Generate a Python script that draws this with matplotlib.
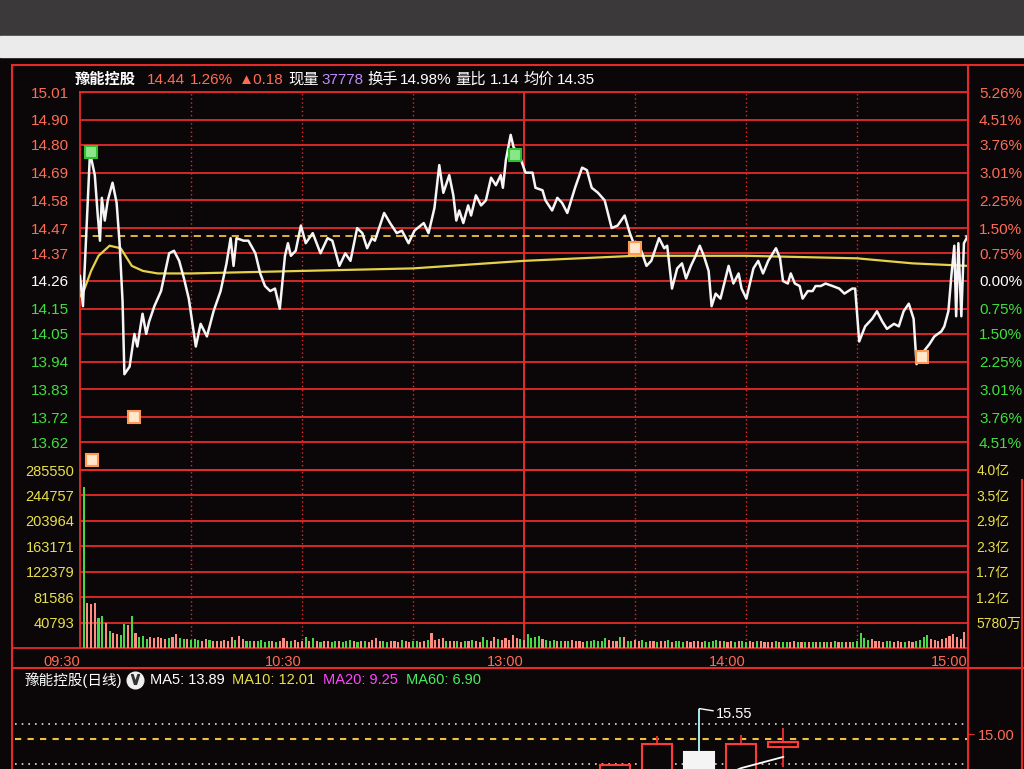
import matplotlib; matplotlib.use('agg')
import matplotlib.pyplot as plt
from matplotlib.lines import Line2D
from matplotlib.patches import Rectangle
import numpy as np

plt.rcParams['font.family'] = ['Liberation Sans', 'Noto Sans CJK SC', 'DejaVu Sans']

# ---- 分时 (minutes after 09:30, 240 = 15:00) ----
price_t = [0, 0.8, 2.7, 4.0, 4.8, 5.4, 5.9, 6.7, 7.5, 8.8, 9.9, 10.7, 11.5, 12.0, 13.4,
           14.7, 15.5, 16.9, 17.9, 18.7, 20.1, 21.9, 24.1, 25.4, 26.8, 28.1, 29.4, 31.3,
           32.6, 34.3, 36.1, 38.0, 39.6, 40.7, 41.5, 42.3, 44.2, 45.5, 47.4, 48.7, 50.0,
           51.4, 52.7, 54.0, 55.4, 56.2, 57.0, 58.3, 59.7, 61.0, 62.9, 65.0, 66.9, 68.2,
           70.1, 71.7, 73.1, 74.9, 76.3, 77.6, 78.9, 79.7, 82.2, 83.8, 85.6, 87.0, 88.8,
           90.4, 92.9, 94.2, 95.8, 97.1, 98.2, 99.8, 100.9, 101.7, 102.5, 103.6, 104.9,
           105.7, 107.0, 108.4, 109.7, 111.1, 112.4, 113.7, 114.3, 115.1, 116.4, 117.2,
           118.5, 120.4, 122.3, 123.1, 125.0, 125.8, 127.6, 129.0, 130.3, 131.7, 133.8,
           135.7, 137.0, 138.3, 140.0, 141.8, 143.7, 145.3, 147.2, 148.6, 149.9, 151.7,
           153.1, 154.4, 156.5, 157.9, 158.7, 160.0, 161.4, 162.7, 163.8, 165.1, 166.4,
           167.5, 168.6, 169.9, 170.7, 171.8, 173.1, 175.3, 176.6, 178.0, 178.8, 180.1,
           182.0, 183.3, 184.6, 186.0, 188.1, 189.2, 190.0, 191.3, 192.1, 193.2, 194.5,
           195.3, 196.7, 198.0, 198.8, 200.2, 201.5, 203.4, 205.2, 206.6, 208.7, 209.5,
           210.6, 212.2, 214.1, 215.4, 216.8, 218.1, 220.0, 221.3, 222.6, 224.0, 225.3,
           226.1, 228.0, 229.6, 230.9, 232.8, 233.6, 234.7, 235.5, 236.3, 236.8, 237.4,
           238.2, 238.9, 240]
price_v = [14.28, 14.16, 14.77, 14.68, 14.52, 14.42, 14.59, 14.50, 14.58, 14.65, 14.57, 14.41,
           14.18, 13.89, 13.92, 14.05, 14.00, 14.13, 14.05, 14.10, 14.16, 14.22, 14.37, 14.38,
           14.34, 14.27, 14.19, 14.00, 14.09, 14.04, 14.14, 14.22, 14.33, 14.43, 14.32, 14.43,
           14.42, 14.42, 14.37, 14.29, 14.24, 14.22, 14.23, 14.15, 14.36, 14.41, 14.36, 14.38,
           14.48, 14.41, 14.45, 14.37, 14.43, 14.42, 14.32, 14.37, 14.34, 14.47, 14.45, 14.39,
           14.43, 14.42, 14.53, 14.49, 14.45, 14.46, 14.41, 14.46, 14.49, 14.45, 14.55, 14.72,
           14.61, 14.68, 14.60, 14.50, 14.54, 14.49, 14.56, 14.52, 14.60, 14.56, 14.58, 14.67,
           14.64, 14.68, 14.63, 14.74, 14.84, 14.79, 14.77, 14.69, 14.69, 14.63, 14.62, 14.58,
           14.54, 14.59, 14.57, 14.53, 14.63, 14.71, 14.70, 14.63, 14.61, 14.58, 14.47, 14.48,
           14.52, 14.45, 14.40, 14.38, 14.32, 14.34, 14.43, 14.39, 14.40, 14.23, 14.31, 14.33,
           14.27, 14.32, 14.36, 14.40, 14.36, 14.30, 14.16, 14.21, 14.19, 14.32, 14.25, 14.29,
           14.23, 14.19, 14.31, 14.34, 14.29, 14.34, 14.39, 14.35, 14.26, 14.25, 14.29, 14.25,
           14.24, 14.19, 14.22, 14.22, 14.24, 14.24, 14.25, 14.24, 14.23, 14.21, 14.23, 14.23,
           14.02, 14.08, 14.11, 14.14, 14.10, 14.07, 14.09, 14.08, 14.14, 14.17, 14.11, 13.93,
           13.98, 14.01, 14.04, 14.06, 14.08, 14.14, 14.28, 14.40, 14.12, 14.41, 14.12, 14.41,
           14.44]
avg_t = [0, 1, 3, 5, 8, 11, 14, 17, 21, 30, 60, 90, 120, 150, 180, 210, 225, 240]
avg_v = [14.20, 14.22, 14.30, 14.36, 14.40, 14.39, 14.32, 14.30, 14.29, 14.29, 14.30, 14.31,
         14.34, 14.36, 14.36, 14.35, 14.33, 14.32]
last_price = 14.44
pre_close = 14.26

price_ticks = [15.01, 14.90, 14.80, 14.69, 14.58, 14.47, 14.37, 14.26, 14.15, 14.05, 13.94,
               13.83, 13.72, 13.62]
price_labels = ['15.01', '14.90', '14.80', '14.69', '14.58', '14.47', '14.37', '14.26', '14.15',
                '14.05', '13.94', '13.83', '13.72', '13.62']
pct_labels = ['5.26%', '4.51%', '3.76%', '3.01%', '2.25%', '1.50%', '0.75%', '0.00%', '0.75%',
              '1.50%', '2.25%', '3.01%', '3.76%', '4.51%']

# 成交量 (千手/min), r=up g=down w=flat
vol_k = [259, 72, 70, 72, 48, 51, 40, 27, 24, 22,
         21, 38, 37, 51, 24, 17, 20, 15, 18, 16,
         17, 16, 14, 16, 18, 23, 16, 14, 15, 13,
         14, 13, 12, 15, 13, 12, 12, 11, 13, 12,
         17, 13, 19, 15, 12, 11, 12, 11, 13, 10,
         11, 12, 10, 11, 16, 12, 11, 13, 10, 12,
         18, 11, 16, 12, 10, 11, 11, 10, 12, 11,
         10, 11, 13, 11, 10, 12, 11, 10, 13, 16,
         12, 11, 10, 11, 12, 10, 13, 11, 10, 12,
         11, 10, 12, 13, 24, 13, 15, 16, 12, 11,
         11, 12, 10, 11, 12, 13, 11, 10, 17, 13,
         12, 18, 14, 13, 16, 13, 21, 16, 14, 13,
         22, 16, 18, 20, 14, 13, 12, 13, 11, 12,
         11, 12, 13, 11, 12, 10, 11, 12, 13, 11,
         12, 16, 13, 11, 12, 17, 18, 12, 11, 13,
         11, 13, 10, 11, 12, 10, 11, 12, 13, 10,
         11, 12, 10, 11, 10, 11, 12, 10, 11, 10,
         12, 13, 11, 12, 10, 11, 10, 12, 11, 10,
         11, 10, 12, 11, 10, 9, 10, 11, 10, 9,
         10, 9, 11, 10, 9, 10, 9, 10, 9, 10,
         9, 10, 9, 11, 10, 9, 10, 9, 10, 11,
         24, 16, 13, 15, 12, 11, 10, 11, 12, 10,
         11, 10, 9, 11, 10, 12, 13, 18, 21, 15,
         13, 12, 14, 16, 20, 22, 17, 14, 25, 32]
vol_dir = ''.join(['grrrggrgrr', 'ggrgrgggrr', 'rrrgrrggrg', 'ggrrgrrrrr', 'rgrrggrggg',
                   'grgrrrgrrr', 'grgrgrrggr', 'gggrgrgrrr', 'rggrrrgrrg', 'grrgrrrrgr',
                   'rgrgrgrrgg', 'rrgrrrrrgr', 'ggggrgggrg', 'rgrrrrgggg', 'ggrrrgrggr',
                   'rggrrgrrgr', 'gggrrrrrgg', 'ggrgrrgrgg', 'rrgrrrrgrg', 'grrgrgrgrg',
                   'rgrgrgrrgg', 'gggrrrrggr', 'rrgrrggggr', 'rrrrrrrrrw'])
vol_ticks = [285550, 244757, 203964, 163171, 122379, 81586, 40793]
amt_labels = ['4.0亿', '3.5亿', '2.9亿', '2.3亿', '1.7亿', '1.2亿', '5780万']

time_ticks = [0, 60, 120, 180, 240]
time_labels = ['09:30', '10:30', '13:00', '14:00', '15:00']

sig_hi_t = [3.0, 117.7]
sig_hi_p = [14.77, 14.76]
sig_lo_t = [3.2, 14.7, 149.9, 227.5]
sig_lo_p = [13.55, 13.72, 14.39, 13.96]

head_text = ['豫能控股', '14.44', '1.26%', '▲0.18', '现量', '37778', '换手', '14.98%',
             '量比', '1.14', '均价', '14.35']
ma_text = ['MA5: 13.89', 'MA10: 12.01', 'MA20: 9.25', 'MA60: 6.90']

# 日线 (partly visible)
k_idx = [0, 1, 2, 3, 4]
k_open = [13.90, 14.10, 14.62, 14.00, 14.72]
k_close = [14.34, 14.79, 14.00, 14.79, 14.83]
k_high = [14.36, 14.97, 15.55, 14.98, 15.13]
k_low = [13.80, 14.00, 13.90, 13.90, 14.29]
ma5_idx = [2, 3, 4]
ma5_val = [13.90, 14.27, 14.51]

# ---- style / layout ----
BG = '#0b0607'
RED = '#e62a2a'
UP = '#ff6d55'
DN = '#3ee03e'
YEL = '#e8e04a'
W, H = 1024, 769


def box(x0, y0, x1, y1):
    return [x0 / W, 1 - y1 / H, (x1 - x0) / W, (y1 - y0) / H]


def fx(x):
    return x / W


def fy(y):
    return 1 - y / H


def fline(x0, y0, x1, y1, **kw):
    fig.add_artist(Line2D([fx(x0), fx(x1)], [fy(y0), fy(y1)], transform=fig.transFigure, **kw))


def text_row(texts, colors, x0, y, gaps, **kw):
    # put strings one after another, like the quote bar does
    rend = fig.canvas.get_renderer()
    x = x0
    for s, c, g in zip(texts, colors, gaps):
        t = fig.text(fx(x), fy(y), s, color=c, va='center', **kw)
        x += t.get_window_extent(renderer=rend).width + g
    return x


fig = plt.figure(figsize=(10.24, 7.69), dpi=100, facecolor=BG)
fig.patches.append(Rectangle((0, fy(36)), 1, 36 / H, transform=fig.transFigure, color='#3b3939', zorder=0))
fig.patches.append(Rectangle((0, fy(57)), 1, 21 / H, transform=fig.transFigure, color='#ebebeb', zorder=0))

L, R = 80, 968
fline(12, 65, 1024, 65, color=RED, lw=1.5)
fline(12, 65, 12, 769, color=RED, lw=1.5)
fline(R, 65, R, 769, color=RED, lw=1.5)
fline(12, 648, L, 648, color=RED, lw=1.3)
fline(12, 668, 1024, 668, color=RED, lw=1.5)
fline(1022, 480, 1022, 769, color=RED, lw=1.5)

# quote bar
head_c = ['white', UP, UP, UP, 'white', '#c08cff', 'white', 'white', 'white', 'white', 'white', 'white']
head_gap = [11, 5, 6, 4, 3, 4, 2, 4, 4, 4, 2, 0]
rend = fig.canvas.get_renderer()
t0 = fig.text(fx(75), fy(80), head_text[0], color='white', fontsize=11, fontweight='bold', va='center')
xh = 75 + t0.get_window_extent(renderer=rend).width + head_gap[0]
text_row(head_text[1:], head_c[1:], xh, 80, head_gap[1:], fontsize=11)

# ---- price panel ----
ax = fig.add_axes(box(L, 92, R, 470), facecolor=BG)
ax.set_xlim(0, 240)
ax.set_ylim(pre_close * (1 - 0.0526), pre_close * (1 + 0.0526))
ax.hlines(price_ticks, 0, 240, color=RED, lw=1.3, zorder=1)
ax.vlines([30, 60, 90, 150, 180, 210], *ax.get_ylim(), color=RED, lw=1, ls=(0, (1, 2)), zorder=1)
ax.axvline(120, color=RED, lw=1.4, zorder=1)
ax.axhline(last_price, color='#f2c040', lw=1.3, ls=(0, (4, 3)), zorder=2)
ax.plot(avg_t, avg_v, color='#e6d24a', lw=1.6, zorder=3)
ax.plot(price_t, price_v, color='#f5f5f5', lw=1.8, zorder=4)
ax.plot(sig_hi_t, sig_hi_p, 's', ms=9, mfc='#8ae68a', mec='#2fbf2f', mew=1.5, zorder=5)
ax.plot(sig_lo_t, sig_lo_p, 's', ms=9, mfc='#ffe6cc', mec='#ff9a50', mew=1.5, zorder=5)
ax.set_xticks([])
ax.set_yticks(price_ticks)
ax.set_yticklabels(price_labels, fontsize=11)
ax.tick_params(axis='y', length=0, pad=8)
for s in ax.spines.values():
    s.set_color(RED)
    s.set_linewidth(1.3)
axr = ax.twinx()
axr.set_ylim(ax.get_ylim())
axr.set_yticks(price_ticks)
axr.set_yticklabels(pct_labels, fontsize=11)
axr.tick_params(axis='y', length=0, pad=8)
for s in axr.spines.values():
    s.set_visible(False)
for a in (ax, axr):
    for lab, v in zip(a.get_yticklabels(), price_ticks):
        lab.set_color(UP if v > pre_close else ('white' if v == pre_close else DN))

# ---- volume panel ----
axv = fig.add_axes(box(L, 470, R, 648), facecolor=BG)
axv.set_xlim(0, 240)
axv.set_ylim(0, vol_ticks[0])
axv.hlines(vol_ticks, 0, 240, color=RED, lw=1.3, zorder=1)
axv.vlines([30, 60, 90, 150, 180, 210], 0, vol_ticks[0], color=RED, lw=1, ls=(0, (1, 2)), zorder=1)
axv.axvline(120, color=RED, lw=1.4, zorder=1)
cmap = {'r': '#ff8c80', 'g': '#46d846', 'w': '#f0f0f0'}
axv.bar(np.arange(1, 241), np.array(vol_k) * 1000, width=0.55,
        color=[cmap[c] for c in vol_dir], lw=0, zorder=3)
axv.set_yticks(vol_ticks)
axv.set_yticklabels([str(v) for v in vol_ticks], fontsize=10.5, color=YEL)
axv.set_xticks(time_ticks)
axv.set_xticklabels(time_labels, fontsize=10.5, color=UP, ha='right')
axv.tick_params(length=0)
axv.tick_params(axis='y', pad=4)
axv.tick_params(axis='x', pad=5)
for s in axv.spines.values():
    s.set_color(RED)
    s.set_linewidth(1.3)
axv2 = axv.twinx()
axv2.set_ylim(axv.get_ylim())
axv2.set_yticks(vol_ticks)
axv2.set_yticklabels(amt_labels, fontsize=10, color=YEL)
axv2.tick_params(length=0, pad=6)
for s in axv2.spines.values():
    s.set_visible(False)

# ---- 日线 panel ----
xk = text_row(['豫能控股(日线)'], ['white'], 25, 680, [4], fontsize=10.5)
fig.add_artist(Line2D([fx(xk + 8)], [fy(680)], marker='o', ms=12, color='#f0f0f0', transform=fig.transFigure))
fig.add_artist(Line2D([fx(xk + 8)], [fy(679)], marker=r'$\vee$', ms=7, color='#333333', transform=fig.transFigure))
text_row(ma_text, ['white', YEL, '#ff45ff', '#45f060'], xk + 23, 680, [8, 8, 8, 0], fontsize=10.5)

axk = fig.add_axes(box(15, 690, R, 769), facecolor=BG)
axk.set_xlim(-14.3, 8.4)
axk.set_ylim(14.25, 15.95)
axk.axhline(15.22, color='#dddddd', lw=1.2, ls=(0, (1, 3)), zorder=1)
axk.axhline(14.90, color='#f0c040', lw=1.5, ls=(0, (3, 3)), zorder=1)
axk.axhline(14.36, color='#dddddd', lw=1.2, ls=(0, (1, 3)), zorder=1)
for i, o, c, h, l in zip(k_idx, k_open, k_close, k_high, k_low):
    up = c >= o
    axk.vlines(i, l, h, color=RED if up else '#a8ecec', lw=1.4, zorder=2)
    axk.bar(i, abs(c - o), bottom=min(o, c), width=0.72, zorder=3, lw=1.5,
            facecolor=BG if up else '#f4f4f4', edgecolor='#ff3a3a' if up else '#f4f4f4')
axk.plot(ma5_idx, ma5_val, color='white', lw=1.3, zorder=4)
hi = int(np.argmax(k_high))
axk.annotate(f'{k_high[hi]:.2f}', xy=(k_idx[hi], k_high[hi]), xytext=(12, -4),
             textcoords='offset points', color='white', fontsize=10.5, va='center',
             arrowprops=dict(arrowstyle='-', color='white', lw=1, shrinkA=0, shrinkB=0))
axk.set_xticks([])
axk.set_yticks([])
for s in axk.spines.values():
    s.set_visible(False)
axk2 = axk.twinx()
axk2.set_ylim(axk.get_ylim())
axk2.set_yticks([15.00])
axk2.set_yticklabels(['15.00'], fontsize=10.5, color=UP)
axk2.tick_params(length=4, color=RED, pad=3)
for s in axk2.spines.values():
    s.set_visible(False)

plt.savefig('out.png', dpi=100, facecolor=BG)
